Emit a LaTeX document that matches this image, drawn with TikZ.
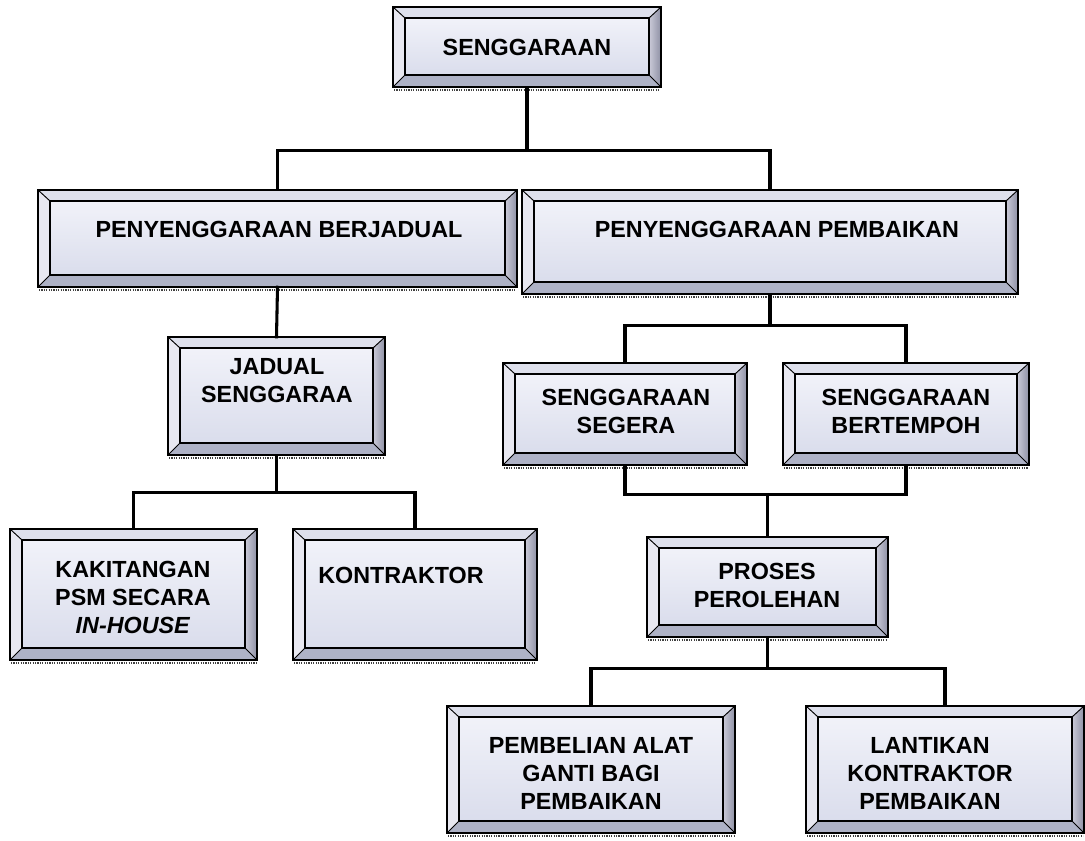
\documentclass[tikz,border=0pt]{standalone}
\usepackage{fontspec}
\setmainfont{Liberation Sans}
\usetikzlibrary{calc,fit}
\definecolor{topbev}{HTML}{DEE0EC}
\definecolor{leftbev}{HTML}{E8E8F1}
\definecolor{botbev}{HTML}{AEB2C6}
\definecolor{rbevA}{HTML}{CACAD8}
\definecolor{rbevB}{HTML}{8E90A4}
\definecolor{faceA}{HTML}{F1F2F9}
\definecolor{faceB}{HTML}{DADDEC}
\tikzset{
  conn/.style={line width=2.3pt, line cap=rect, black},
  lbl/.style={font=\fontsize{17.5}{21}\selectfont\bfseries, align=center, inner sep=0pt, text=black},
  outerline/.style={line width=1.6pt, black},
  innerline/.style={line width=1.1pt, black},
  diagline/.style={line width=0.7pt, black},
  shadowline/.style={line width=2.2pt, black!75, dash pattern=on 0.9pt off 0.9pt}
}
\newcommand\bevbox[5]{%
  \coordinate (#1-a) at (#2,#3);
  \coordinate (#1-b) at (#4,#3);
  \coordinate (#1-c) at (#4,#5);
  \coordinate (#1-d) at (#2,#5);
  \coordinate (#1-A) at ($(#1-a)+(12,11)$);
  \coordinate (#1-B) at ($(#1-b)+(-12,11)$);
  \coordinate (#1-C) at ($(#1-c)+(-12,-12)$);
  \coordinate (#1-D) at ($(#1-d)+(12,-12)$);
  \draw[shadowline] ($(#1-d)+(1,3)$) -- ($(#1-c)+(-1,3)$);
  \fill[topbev] (#1-a) -- (#1-b) -- (#1-B) -- (#1-A) -- cycle;
  \shade[left color=rbevA, right color=rbevB] (#1-b) -- (#1-c) -- (#1-C) -- (#1-B) -- cycle;
  \fill[botbev] (#1-c) -- (#1-d) -- (#1-D) -- (#1-C) -- cycle;
  \fill[leftbev] (#1-d) -- (#1-a) -- (#1-A) -- (#1-D) -- cycle;
  \shade[top color=faceA, bottom color=faceB] (#1-A) rectangle (#1-C);
  \draw[innerline] (#1-A) rectangle (#1-C);
  \draw[diagline] (#1-a) -- (#1-A) (#1-b) -- (#1-B) (#1-c) -- (#1-C) (#1-d) -- (#1-D);
  \draw[outerline] (#1-a) rectangle (#1-c);
  \node[fit=(#1-a)(#1-c), inner sep=0pt] (#1) {};
}
\begin{document}
\begin{tikzpicture}[x=0.75pt, y=-0.75pt]
\useasboundingbox[fill=white] (0,0) rectangle (1085,840);

% boxes
\bevbox{top}{393}{7}{661}{87}
\bevbox{berj}{38}{190}{517}{287}
\bevbox{pemb}{522}{190}{1018}{294}
\bevbox{jad}{168}{337}{385}{455}
\bevbox{seg}{503}{363}{747}{465}
\bevbox{bert}{783}{363}{1029}{465}
\bevbox{kak}{10}{529}{257}{660}
\bevbox{kon}{293}{529}{537}{660}
\bevbox{pros}{647}{537}{888}{637}
\bevbox{beli}{447}{706}{735}{833}
\bevbox{lant}{806}{706}{1084}{833}

% labels
\node[lbl] (top-t)  at (527,47)  {SENGGARAAN};
\node[lbl] (berj-t) at (279,229) {PENYENGGARAAN BERJADUAL};
\node[lbl] (pemb-t) at (777,229) {PENYENGGARAAN PEMBAIKAN};
\node[lbl] (jad-t)  at (277,381) {JADUAL\\SENGGARAA};
\node[lbl] (seg-t)  at (626,411) {SENGGARAAN\\SEGERA};
\node[lbl] (bert-t) at (906,411) {SENGGARAAN\\BERTEMPOH};
\node[lbl] (kak-t)  at (133,597) {KAKITANGAN\\PSM SECARA\\\textit{IN-HOUSE}};
\node[lbl] (kon-t)  at (401,575) {KONTRAKTOR};
\node[lbl] (pros-t) at (767,585) {PROSES\\PEROLEHAN};
\node[lbl] (beli-t) at (591,773) {PEMBELIAN ALAT\\GANTI BAGI\\PEMBAIKAN};
\node[lbl] (lant-t) at (930,773) {LANTIKAN\\KONTRAKTOR\\PEMBAIKAN};

% junctions
\path (top.south) ++(0,63) coordinate (j1);
\path (jad.south) ++(0,37) coordinate (j3);
\path (pemb.south) ++(0,31) coordinate (j4);
\path (pros.north) ++(0,-42) coordinate (j5);
\path (pros.south) ++(0,31) coordinate (j6);

% connectors
\draw[conn] (top.south) -- (j1);
\draw[conn] (berj.north) |- (j1) -| (pemb.north);
\draw[conn] (berj.south) -- (jad.north);
\draw[conn] (jad.south) -- (j3);
\draw[conn] (kak.north) |- (j3) -| (kon.north);
\draw[conn] (pemb.south) -- (j4);
\draw[conn] (seg.north) |- (j4) -| (bert.north);
\draw[conn] (seg.south) |- (j5) -| (bert.south);
\draw[conn] (j5) -- (pros.north);
\draw[conn] (pros.south) -- (j6);
\draw[conn] (beli.north) |- (j6) -| (lant.north);
\end{tikzpicture}
\end{document}
